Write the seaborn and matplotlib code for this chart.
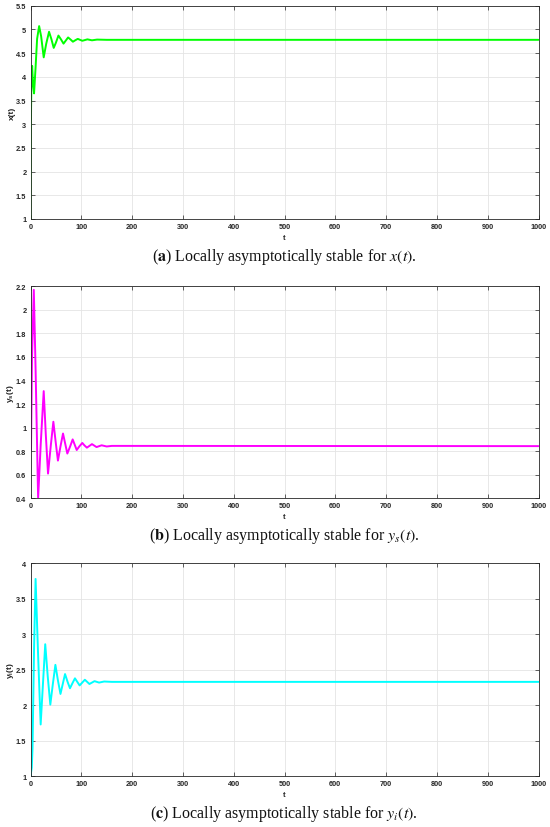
import numpy as np
import pandas as pd
import matplotlib
matplotlib.use("Agg")
import matplotlib.pyplot as plt
import seaborn as sns

# ---- data ----
t_x = [0, 0.3, 0.8, 1.5, 2.3, 3.2, 5, 7, 10, 13, 17, 21, 26, 31, 36.5, 41, 45.7,
       50, 55, 60, 65, 69.5, 74, 79, 83.5, 88, 93, 102, 112, 121, 131, 150, 1000]
x_vals = [1.0, 2.0, 3.0, 3.7, 4.05, 4.23, 3.85, 3.65, 4.2, 4.8, 5.07, 4.85, 4.41, 4.7, 4.95,
          4.8, 4.61, 4.72, 4.87, 4.79, 4.70, 4.765, 4.83, 4.785, 4.74, 4.77, 4.80, 4.76, 4.79,
          4.77, 4.785, 4.78, 4.78]

t_ys = [0, 1, 3, 6.5, 10, 15, 20, 26, 30, 34.5, 40, 45, 49.5, 54, 59, 64, 68, 72.5,
        78, 83, 87, 91, 96, 102, 106, 111, 116, 121, 130, 140, 150, 160, 1000]
ys_vals = [1.0, 0.81, 1.6, 2.17, 1.5, 0.40, 0.85, 1.31, 0.95, 0.61, 0.85, 1.05, 0.88, 0.72,
           0.84, 0.95, 0.87, 0.78, 0.84, 0.90, 0.855, 0.81, 0.84, 0.87, 0.85, 0.83, 0.845,
           0.86, 0.835, 0.85, 0.84, 0.845, 0.843]

t_yi = [0, 1, 2.5, 4, 7, 10, 15, 20, 24.5, 29, 34, 39, 44, 49, 54, 59, 63.5, 68,
        73, 77.7, 82.5, 87.5, 96.7, 107, 116, 126, 135, 145, 160, 1000]
yi_vals = [1.0, 1.05, 1.12, 1.4, 2.8, 3.78, 2.7, 1.73, 2.3, 2.86, 2.4, 2.01, 2.3, 2.57, 2.35,
           2.16, 2.3, 2.44, 2.33, 2.24, 2.31, 2.38, 2.28, 2.36, 2.30, 2.34, 2.32, 2.335, 2.33, 2.33]

ylabels = ["x(t)", r"y$_\mathregular{s}$(t)", r"y$_\mathregular{i}$(t)"]
captions = [r"($\mathbf{a}$) Locally asymptotically stable for $x(t)$.",
            r"($\mathbf{b}$) Locally asymptotically stable for $y_s(t)$.",
            r"($\mathbf{c}$) Locally asymptotically stable for $y_i(t)$."]
colors = ["#00ff00", "#ff00ff", "#00ffff"]
ylims = [(1, 5.5), (0.4, 2.2), (1, 4)]
ysteps = [0.5, 0.2, 0.5]
xticks = [0, 100, 200, 300, 400, 500, 600, 700, 800, 900, 1000]

sns.set_style("ticks")
plt.rcParams["font.family"] = ["Liberation Sans", "DejaVu Sans"]
plt.rcParams["mathtext.fontset"] = "stix"

W, H = 550, 828
fig = plt.figure(figsize=(W / 100, H / 100), dpi=100)

tops = [6.7, 287.3, 564.3]
bottoms = [220, 499.3, 777.3]
left, right = 30.5, 538.5
series = [(t_x, x_vals), (t_ys, ys_vals), (t_yi, yi_vals)]

for i in range(3):
    h = bottoms[i] - tops[i]
    ax = fig.add_axes([left / W, 1 - bottoms[i] / H, (right - left) / W, h / H])
    df = pd.DataFrame({"t": series[i][0], "v": series[i][1]})
    sns.lineplot(data=df, x="t", y="v", ax=ax, color=colors[i], linewidth=1.4,
                 estimator=None, sort=False)
    ax.set_xlim(0, 1000)
    ax.set_ylim(*ylims[i])
    ax.set_xticks(xticks)
    lo, hi = ylims[i]
    n = int(round((hi - lo) / ysteps[i]))
    yt = [round(lo + k * ysteps[i], 2) for k in range(n + 1)]
    ax.set_yticks(yt)
    ax.set_yticklabels([("%g" % v) for v in yt])
    ax.grid(True, color="#e4e4e4", linewidth=0.6)
    ax.set_axisbelow(True)
    ax.tick_params(direction="in", length=3, width=0.5, labelsize=5.3,
                   colors="#262626", top=True, right=True, pad=3)
    for lab in ax.get_xticklabels() + ax.get_yticklabels():
        lab.set_fontweight("bold")
    for s in ax.spines.values():
        s.set_color("#262626")
        s.set_linewidth(0.6)
        s.set_visible(True)
    ax.set_xlabel("t", fontsize=5.5, color="#262626", fontweight="bold")
    ax.xaxis.set_label_coords(0.5, -14.5 / h)
    ax.set_ylabel(ylabels[i], fontsize=6.0, color="#262626", fontweight="bold")
    ax.yaxis.set_label_coords(-15 / (right - left), 0.5)
    fig.text(284 / W, 1 - (bottoms[i] + 36.7) / H, captions[i], ha="center", va="center",
             fontsize=11.5, family=["Liberation Serif", "DejaVu Serif"], color="#111111")

fig.savefig("out.png", dpi=100)
